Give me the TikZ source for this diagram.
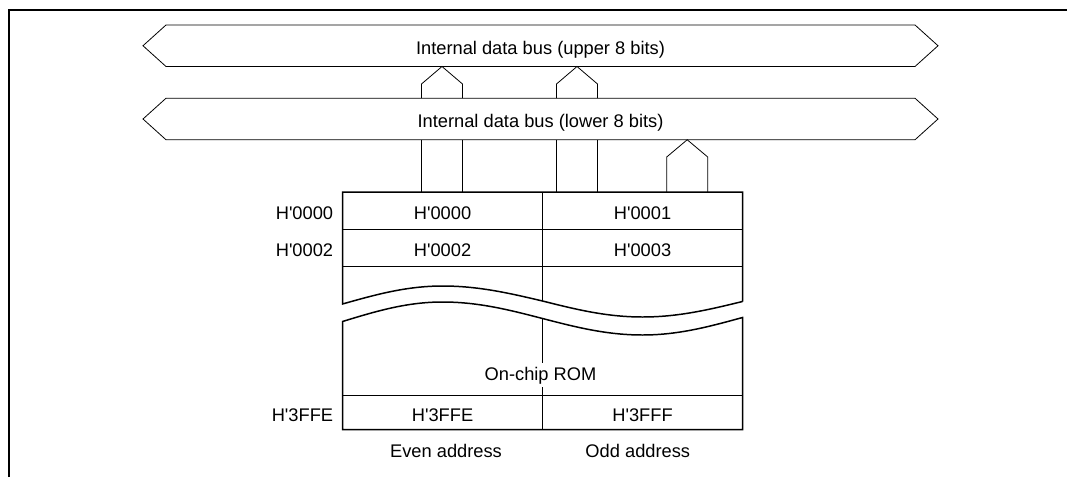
\documentclass[tikz,border=0pt]{standalone}
\usepackage{fontspec}
\setmainfont{Liberation Sans}
\usetikzlibrary{positioning}

\begin{document}
\begin{tikzpicture}[x=0.2mm,y=-0.2mm,font=\fontsize{10.4}{12.5}\selectfont,
    wire/.style={line width=0.45pt},
    heavy/.style={line width=0.85pt},
    frame/.style={line width=1.1pt},
    bus/.style={minimum width=14.98cm,minimum height=0.83cm,inner sep=0pt,
                outer sep=0pt,text height=10pt,text depth=0pt},
    cell/.style={draw,wire,minimum width=4cm,minimum height=0.74cm,
                 inner sep=0pt,outer sep=0pt,text height=10pt,text depth=0pt},
    addr/.style={anchor=east,inner sep=0pt,text height=10pt,text depth=0pt},
    side/.style={anchor=base,inner sep=0pt}]
  \useasboundingbox (0,0) rectangle (1067,477);
  % page frame, open at right and bottom
  \draw[frame] (9,477) -- (9,10) -- (1067,10);
  % upper and lower halves of the internal data bus
  \node[bus] (upper) at (540.5,45.75) {Internal data bus (upper 8 bits)};
  \node[bus] (lower) at (540.5,119) {Internal data bus (lower 8 bits)};
  \foreach \b in {upper,lower}{
    \draw[wire] (\b.north west) -- (\b.north east) -- ++(23,20.75)
      -- (\b.south east) -- (\b.south west) -- ++(-23,-20.75) -- cycle;
  }
  % ROM cells, even byte left and odd byte right
  \node[cell] (even0) at (442.5,210.5) {H\textquotesingle 0000};
  \node[cell,right=0pt of even0] (odd0) {H\textquotesingle 0001};
  \node[cell,below=0pt of even0] (even1) {H\textquotesingle 0002};
  \node[cell,right=0pt of even1] (odd1) {H\textquotesingle 0003};
  \node[cell,minimum height=0.69cm] (evenN) at (442.5,412.25)
    {H\textquotesingle 3FFE};
  \node[cell,minimum height=0.69cm,right=0pt of evenN] (oddN)
    {H\textquotesingle 3FFF};
  \draw[wire] (even1.south east) -- (542.5,301);
  \draw[wire] (542.5,318.5) -- (evenN.north east);
  \node[side,fill=white,inner xsep=1pt,inner ysep=2pt] (rom) at (540.5,380)
    {On-chip ROM};
  % links: bus halves and ROM
  \foreach \x in {442,577}{
    \draw[wire] (\x-20.5,0 |- lower.north) -- (\x-20.5,84)
      -- (\x,0 |- upper.south) -- (\x+20.5,84) -- (\x+20.5,0 |- lower.north);
    \draw[wire] (\x-20.5,0 |- lower.south) -- (\x-20.5,0 |- even0.north);
    \draw[wire] (\x+20.5,0 |- lower.south) -- (\x+20.5,0 |- even0.north);
  }
  \draw[wire] (666.7,0 |- odd0.north) -- (666.7,157)
    -- (687.2,0 |- lower.south) -- (707.7,157) -- (707.7,0 |- odd0.north);
  % ROM outline, torn across the middle
  \draw[heavy] (742.5,301.5) -- (odd0.north east) -- (even0.north west)
    -- (342.5,304) sin (442.5,286) cos (542.5,301) sin (642.5,317)
    cos (742.5,301.5);
  \draw[heavy] (342.5,321.5) sin (442.5,302) cos (542.5,318.5)
    sin (642.5,335) cos (742.5,317.5) -- (oddN.south east)
    -- (evenN.south west) -- cycle;
  % addresses
  \node[addr,left=0.18cm of even0] (addr0) {H\textquotesingle 0000};
  \node[addr,left=0.18cm of even1] (addr2) {H\textquotesingle 0002};
  \node[addr,left=0.18cm of evenN] (addrN) {H\textquotesingle 3FFE};
  \node[side] (evenlbl) at (446,457.7) {Even address};
  \node[side] (oddlbl) at (637.8,457.7) {Odd address};
\end{tikzpicture}
\end{document}
